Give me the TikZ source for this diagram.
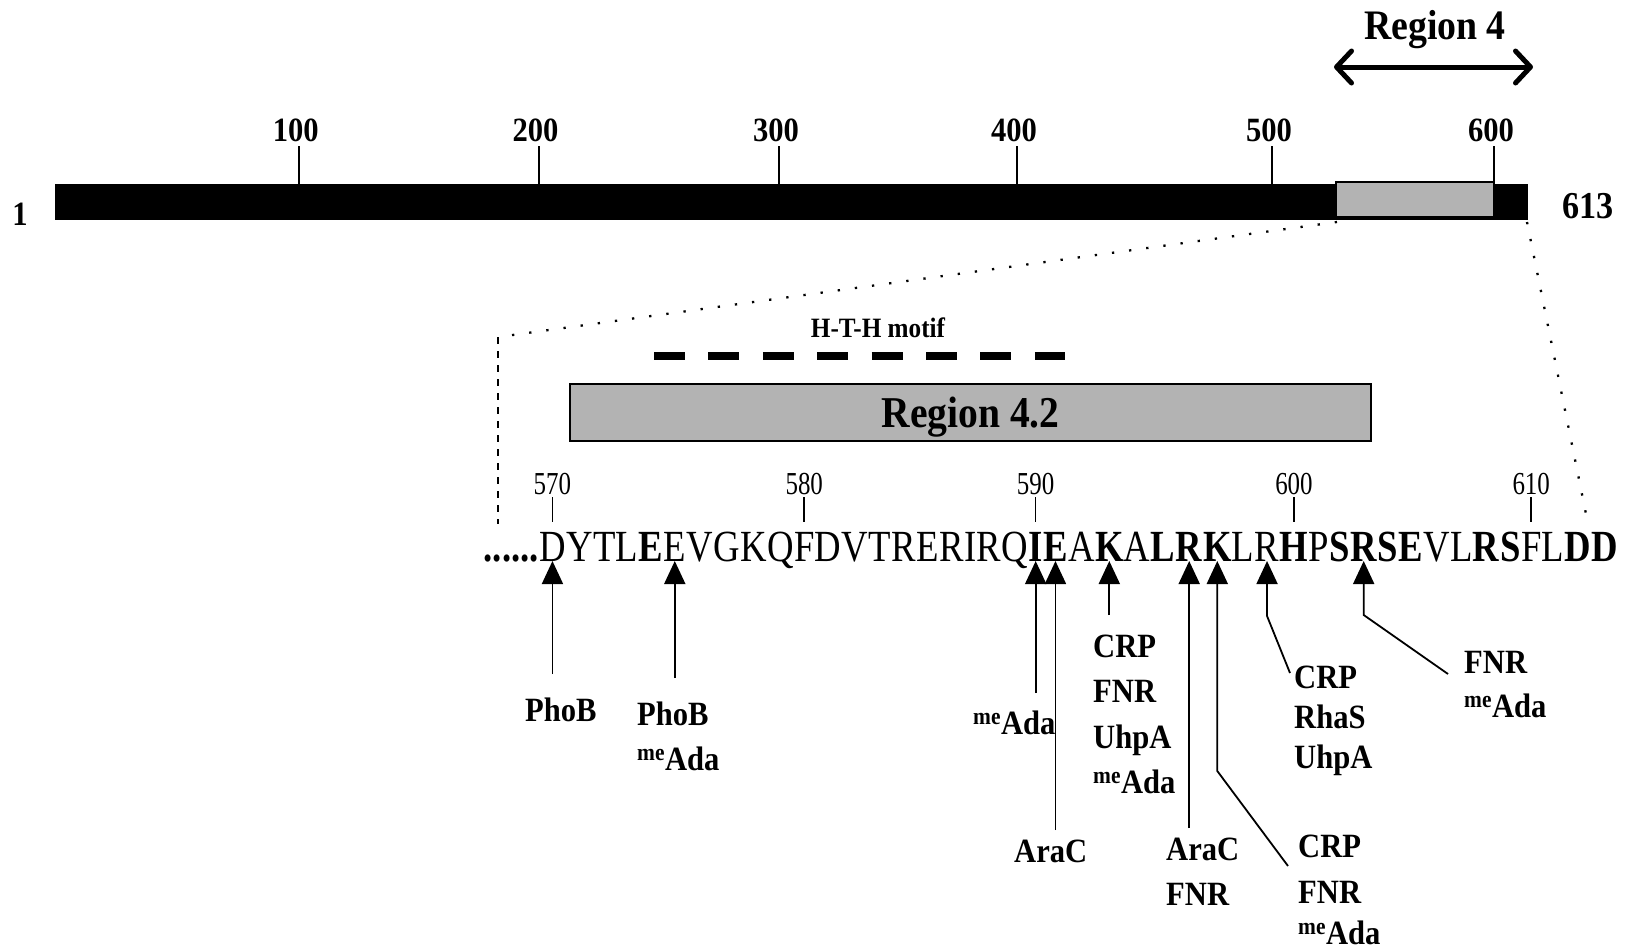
\documentclass[tikz,border=0pt]{standalone}
\usepackage{fontspec}
\setmainfont{Liberation Serif}
\newfontfamily\labf[FakeStretch=0.9]{Liberation Serif}
\newfontfamily\seqf[FakeStretch=0.825]{Liberation Serif}
\newfontfamily\numf[FakeStretch=0.78]{Liberation Serif}
\usetikzlibrary{arrows.meta}
\definecolor{boxgray}{RGB}{179,179,179}
\newcommand{\meAda}{\textsuperscript{me}Ada}
\begin{document}
\begin{tikzpicture}[x=1pt,y=-1pt,
  lab/.style={inner sep=0pt, anchor=base west, font=\labf\bfseries\fontsize{34}{40}\selectfont},
  ticklab/.style={inner sep=0pt, anchor=base, font=\labf\bfseries\fontsize{34}{40}\selectfont},
  seq/.style={inner sep=0pt, anchor=base west, font=\seqf\fontsize{44.5}{50}\selectfont},
  num/.style={inner sep=0pt, anchor=base, font=\numf\fontsize{32}{36}\selectfont},
  arr/.style={-{Triangle[length=23pt,width=21pt]}, line width=1.8pt},
  seqtick/.style={line width=1.6pt},
  bartick/.style={line width=2pt},
  zoomdot/.style={line width=2.3pt, dash pattern=on 2.3pt off 15pt},
  zoomdash/.style={line width=2.8pt, dash pattern=on 7pt off 7pt},
]
\useasboundingbox (0,0) rectangle (1627,951);

% ---- full-length bar ----
\fill[black] (55,184) rectangle (1528,220);
\draw[line width=1.5pt, fill=boxgray] (1336,182) rectangle (1494,217);
\foreach \x/\t in {298.8/100, 538.5/200, 779/300, 1017/400, 1272/500, 1494/600} {
  \draw[bartick] (\x,146) -- (\x,184);
  \node[ticklab] (t\t) at (\x-3,141) {\t};
}
\node[ticklab] (one) at (20,225) {1};
\node[ticklab, font=\labf\bfseries\fontsize{38}{44}\selectfont] (last) at (1588,218) {613};

% ---- Region 4 ----
\node[ticklab, font=\labf\bfseries\fontsize{42}{48}\selectfont] (r4) at (1435,39) {Region 4};
\coordinate (r4l) at (1334,67);
\coordinate (r4r) at (1533,67);
\draw[line width=5pt, line cap=round,
  {Straight Barb[length=15pt,width=32pt,round]}-{Straight Barb[length=15pt,width=32pt,round]}]
  (r4l) -- (r4r);

% ---- zoom lines ----
\coordinate (zA) at (1337,222);
\coordinate (zB) at (498,337);
\coordinate (zC) at (498,524);
\coordinate (zD) at (1527,222);
\coordinate (zE) at (1588,524);
\draw[zoomdot] (zA) -- (zB);
\draw[zoomdot] (zD) -- (zE);
\draw[zoomdash] (zB) -- (zC);

% ---- H-T-H motif ----
\node[ticklab, font=\labf\bfseries\fontsize{28}{32}\selectfont] (hth) at (878,337) {H-T-H motif};
\coordinate (h1) at (654,356);
\coordinate (h2) at (1065,356);
\draw[line width=8.5pt, dash pattern=on 31pt off 23.4pt] (h1) -- (h2);

% ---- Region 4.2 ----
\node[draw, line width=2pt, fill=boxgray, minimum width=801pt, minimum height=57pt,
  inner sep=0pt, text depth=0pt, font=\labf\bfseries\fontsize{44}{50}\selectfont]
  (r42) at (970.5,412.5) {Region 4.2};

% ---- sequence ----
\node[seq] (s1) at (539,561) {D};
\foreach \l [count=\i from 2, evaluate=\i as \j using int(\i-1)] in
  {Y,T,L,\textbf{E},E,V,G,K,Q,F,D,V,T,R,E,R,I,R,Q,\textbf{I},\textbf{E},A,\textbf{K},A,\textbf{L},\textbf{R},\textbf{K},L,R,\textbf{H},P,\textbf{S},\textbf{R},\textbf{S},\textbf{E},V,L,\textbf{R},\textbf{S},F,L,\textbf{D},\textbf{D}}
  \node[seq] (s\i) at (s\j.base east) {\l};
\node[seq, anchor=base east] (dots) at (s1.base west) {\textbf{......}};

\foreach \k/\n in {1/570, 11/580, 21/590, 31/600, 41/610} {
  \node[num] (n\n) at (s\k.base |- 0,494) {\n};
  \draw[seqtick] ([yshift=-3pt]n\n.base) -- (s\k.base |- 0,522);
}

% ---- activator contacts ----
\node[lab] (l1) at (525,721) {PhoB};
\coordinate (e1) at (s1.base |- 0,674);
\draw[arr] (e1) -- (s1.base);

\node[lab] (l2a) at (637,725) {PhoB};
\node[lab] (l2b) at (637,770) {\meAda};
\coordinate (e2) at (s6.base |- 0,678);
\draw[arr] (e2) -- (s6.base);

\node[lab] (l3) at (973,734) {\meAda};
\coordinate (e3) at (s21.base |- 0,693);
\draw[arr] (e3) -- (s21.base);

\node[lab] (l4) at (1014,862) {AraC};
\coordinate (e4) at (s22.base |- 0,830);
\draw[arr] (e4) -- (s22.base);

\node[lab] (l5a) at (1093,657) {CRP};
\node[lab] (l5b) at (1093,702) {FNR};
\node[lab] (l5c) at (1093,748) {UhpA};
\node[lab] (l5d) at (1093,793) {\meAda};
\coordinate (e5) at (s24.base |- 0,615);
\draw[arr] (e5) -- (s24.base);

\node[lab] (l6a) at (1166,860) {AraC};
\node[lab] (l6b) at (1166,905) {FNR};
\coordinate (e6) at (s27.base |- 0,828);
\draw[arr] (e6) -- (s27.base);

\node[lab] (l7a) at (1298,857) {CRP};
\node[lab] (l7b) at (1298,903) {FNR};
\node[lab] (l7c) at (1298,944) {\meAda};
\coordinate (e7) at (1288,866);
\coordinate (b7) at (s28.base |- 0,771);
\draw[arr] (e7) -- (b7) -- (s28.base);

\node[lab] (l8a) at (1294,688) {CRP};
\node[lab] (l8b) at (1294,728) {RhaS};
\node[lab] (l8c) at (1294,768) {UhpA};
\coordinate (e8) at (1290,673);
\coordinate (b8) at (s30.base |- 0,616);
\draw[arr] (e8) -- (b8) -- (s30.base);

\node[lab] (l9a) at (1464,673) {FNR};
\node[lab] (l9b) at (1464,717) {\meAda};
\coordinate (e9) at (1448,674);
\coordinate (b9) at (s34.base |- 0,615);
\draw[arr] (e9) -- (b9) -- (s34.base);
\end{tikzpicture}
\end{document}
